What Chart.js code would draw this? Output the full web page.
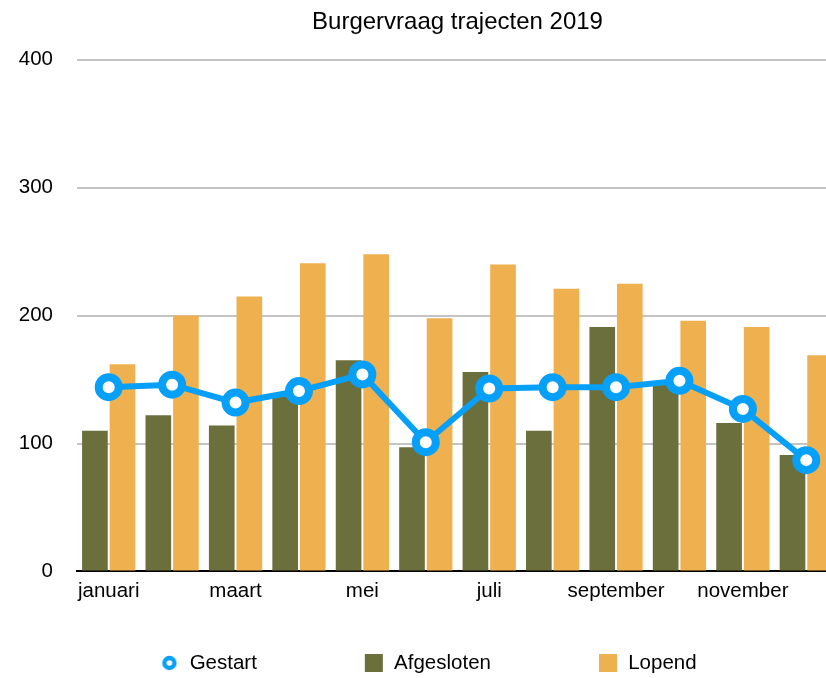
<!DOCTYPE html>
<html>
<head>
<meta charset="utf-8">
<title>Burgervraag trajecten 2019</title>
<script src="https://cdn.jsdelivr.net/npm/chart.js@4.4.1/dist/chart.umd.min.js"></script>
<style>
  html, body { margin: 0; padding: 0; background: #fff; overflow: hidden; }
  #wrap { width: 826px; height: 678px; overflow: hidden; }
</style>
</head>
<body>
<div id="wrap"><canvas id="myChart" width="856" height="678"></canvas></div>
<script>
const months = ['januari', 'februari', 'maart', 'april', 'mei', 'juni',
                'juli', 'augustus', 'september', 'oktober', 'november', 'december'];
const gestart    = [144, 146, 132, 141, 154, 101, 143, 144, 144, 149, 127, 87];
const afgesloten = [110, 122, 114, 137, 165, 97, 156, 110, 191, 148, 116, 91];
const lopend     = [162, 200, 215, 241, 248, 198, 240, 221, 225, 196, 191, 169];
const yTicks = [0, 100, 200, 300, 400];

const blue = '#06a0f8';
const olive = '#6b6f3b';
const orange = '#efb04f';
const fontFamily = "'Liberation Sans', Arial, Helvetica, sans-serif";

Chart.defaults.font.family = fontFamily;
Chart.defaults.color = '#000';

// small ring for the "Gestart" legend marker
const ring = document.createElement('canvas');
ring.width = 18;
ring.height = 18;
(function () {
    const c = ring.getContext('2d');
    c.beginPath();
    c.arc(9, 9, 5, 0, Math.PI * 2);
    c.fillStyle = '#fff';
    c.fill();
    c.lineWidth = 4.4;
    c.strokeStyle = blue;
    c.stroke();
})();

// legend sits low under the axis labels, with wide gaps between items
const legendCenterY = 663;
const legendPlacement = {
    id: 'legendPlacement',
    afterLayout(chart) {
        const lg = chart.legend;
        const opts = lg.options.labels;
        lg.top = legendCenterY - opts.font.size / 2 - opts.padding;
    }
};

const data = {
    labels: months,
    datasets: [
        {
            type: 'line',
            label: 'Gestart',
            data: gestart,
            borderColor: blue,
            backgroundColor: '#fff',
            borderWidth: 6,
            pointRadius: 10,
            pointHoverRadius: 10,
            pointBorderWidth: 8,
            pointBackgroundColor: '#fff',
            pointBorderColor: blue,
            pointStyle: 'circle',
            tension: 0
        },
        {
            type: 'bar',
            label: 'Afgesloten',
            data: afgesloten,
            backgroundColor: olive,
            borderWidth: 0,
            pointStyle: 'rect',
            categoryPercentage: 0.87,
            barPercentage: 0.93
        },
        {
            type: 'bar',
            label: 'Lopend',
            data: lopend,
            backgroundColor: orange,
            borderWidth: 0,
            pointStyle: 'rect',
            categoryPercentage: 0.87,
            barPercentage: 0.93
        }
    ]
};

const config = {
    type: 'bar',
    data: data,
    plugins: [legendPlacement],
    options: {
        responsive: false,
        animation: false,
        layout: { padding: 0 },
        plugins: {
            title: {
                display: true,
                text: 'Burgervraag trajecten 2019',
                fullSize: false,
                color: '#000',
                font: { size: 24, weight: 'normal' },
                padding: { top: 8, bottom: 23 }
            },
            legend: {
                position: 'bottom',
                maxHeight: 74,
                labels: {
                    usePointStyle: true,
                    boxWidth: 20,
                    boxHeight: 18,
                    padding: 107,
                    color: '#000',
                    font: { size: 20.5 },
                    generateLabels(chart) {
                        const items = Chart.defaults.plugins.legend.labels.generateLabels(chart);
                        items[0].pointStyle = ring;
                        return items;
                    }
                }
            },
            tooltip: { enabled: false }
        },
        scales: {
            x: {
                grid: { display: false },
                border: { display: true, color: '#000', width: 2 },
                ticks: {
                    autoSkip: false,
                    maxRotation: 0,
                    padding: 0,
                    color: '#000',
                    font: { size: 20.5 },
                    callback: function (v, i) {
                        return i % 2 === 0 ? this.getLabelForValue(v) : '';
                    }
                }
            },
            y: {
                min: 0,
                max: 400,
                afterBuildTicks: (s) => { s.ticks = yTicks.map(v => ({ value: v })); },
                afterFit: (s) => { s.width = 77; },
                grid: {
                    drawTicks: false,
                    lineWidth: 2,
                    color: (ctx) => ctx.tick && ctx.tick.value === 0 ? '#000' : '#c4c4c4'
                },
                border: { display: false },
                ticks: {
                    padding: 24,
                    color: '#000',
                    font: { size: 20.5 }
                }
            },
            yRight: {
                position: 'right',
                display: true,
                grid: { display: false },
                border: { display: false },
                ticks: { display: false },
                afterFit: (s) => { s.width = 16; }
            }
        }
    }
};

const myChart = new Chart(document.getElementById('myChart'), config);
</script>
</body>
</html>
